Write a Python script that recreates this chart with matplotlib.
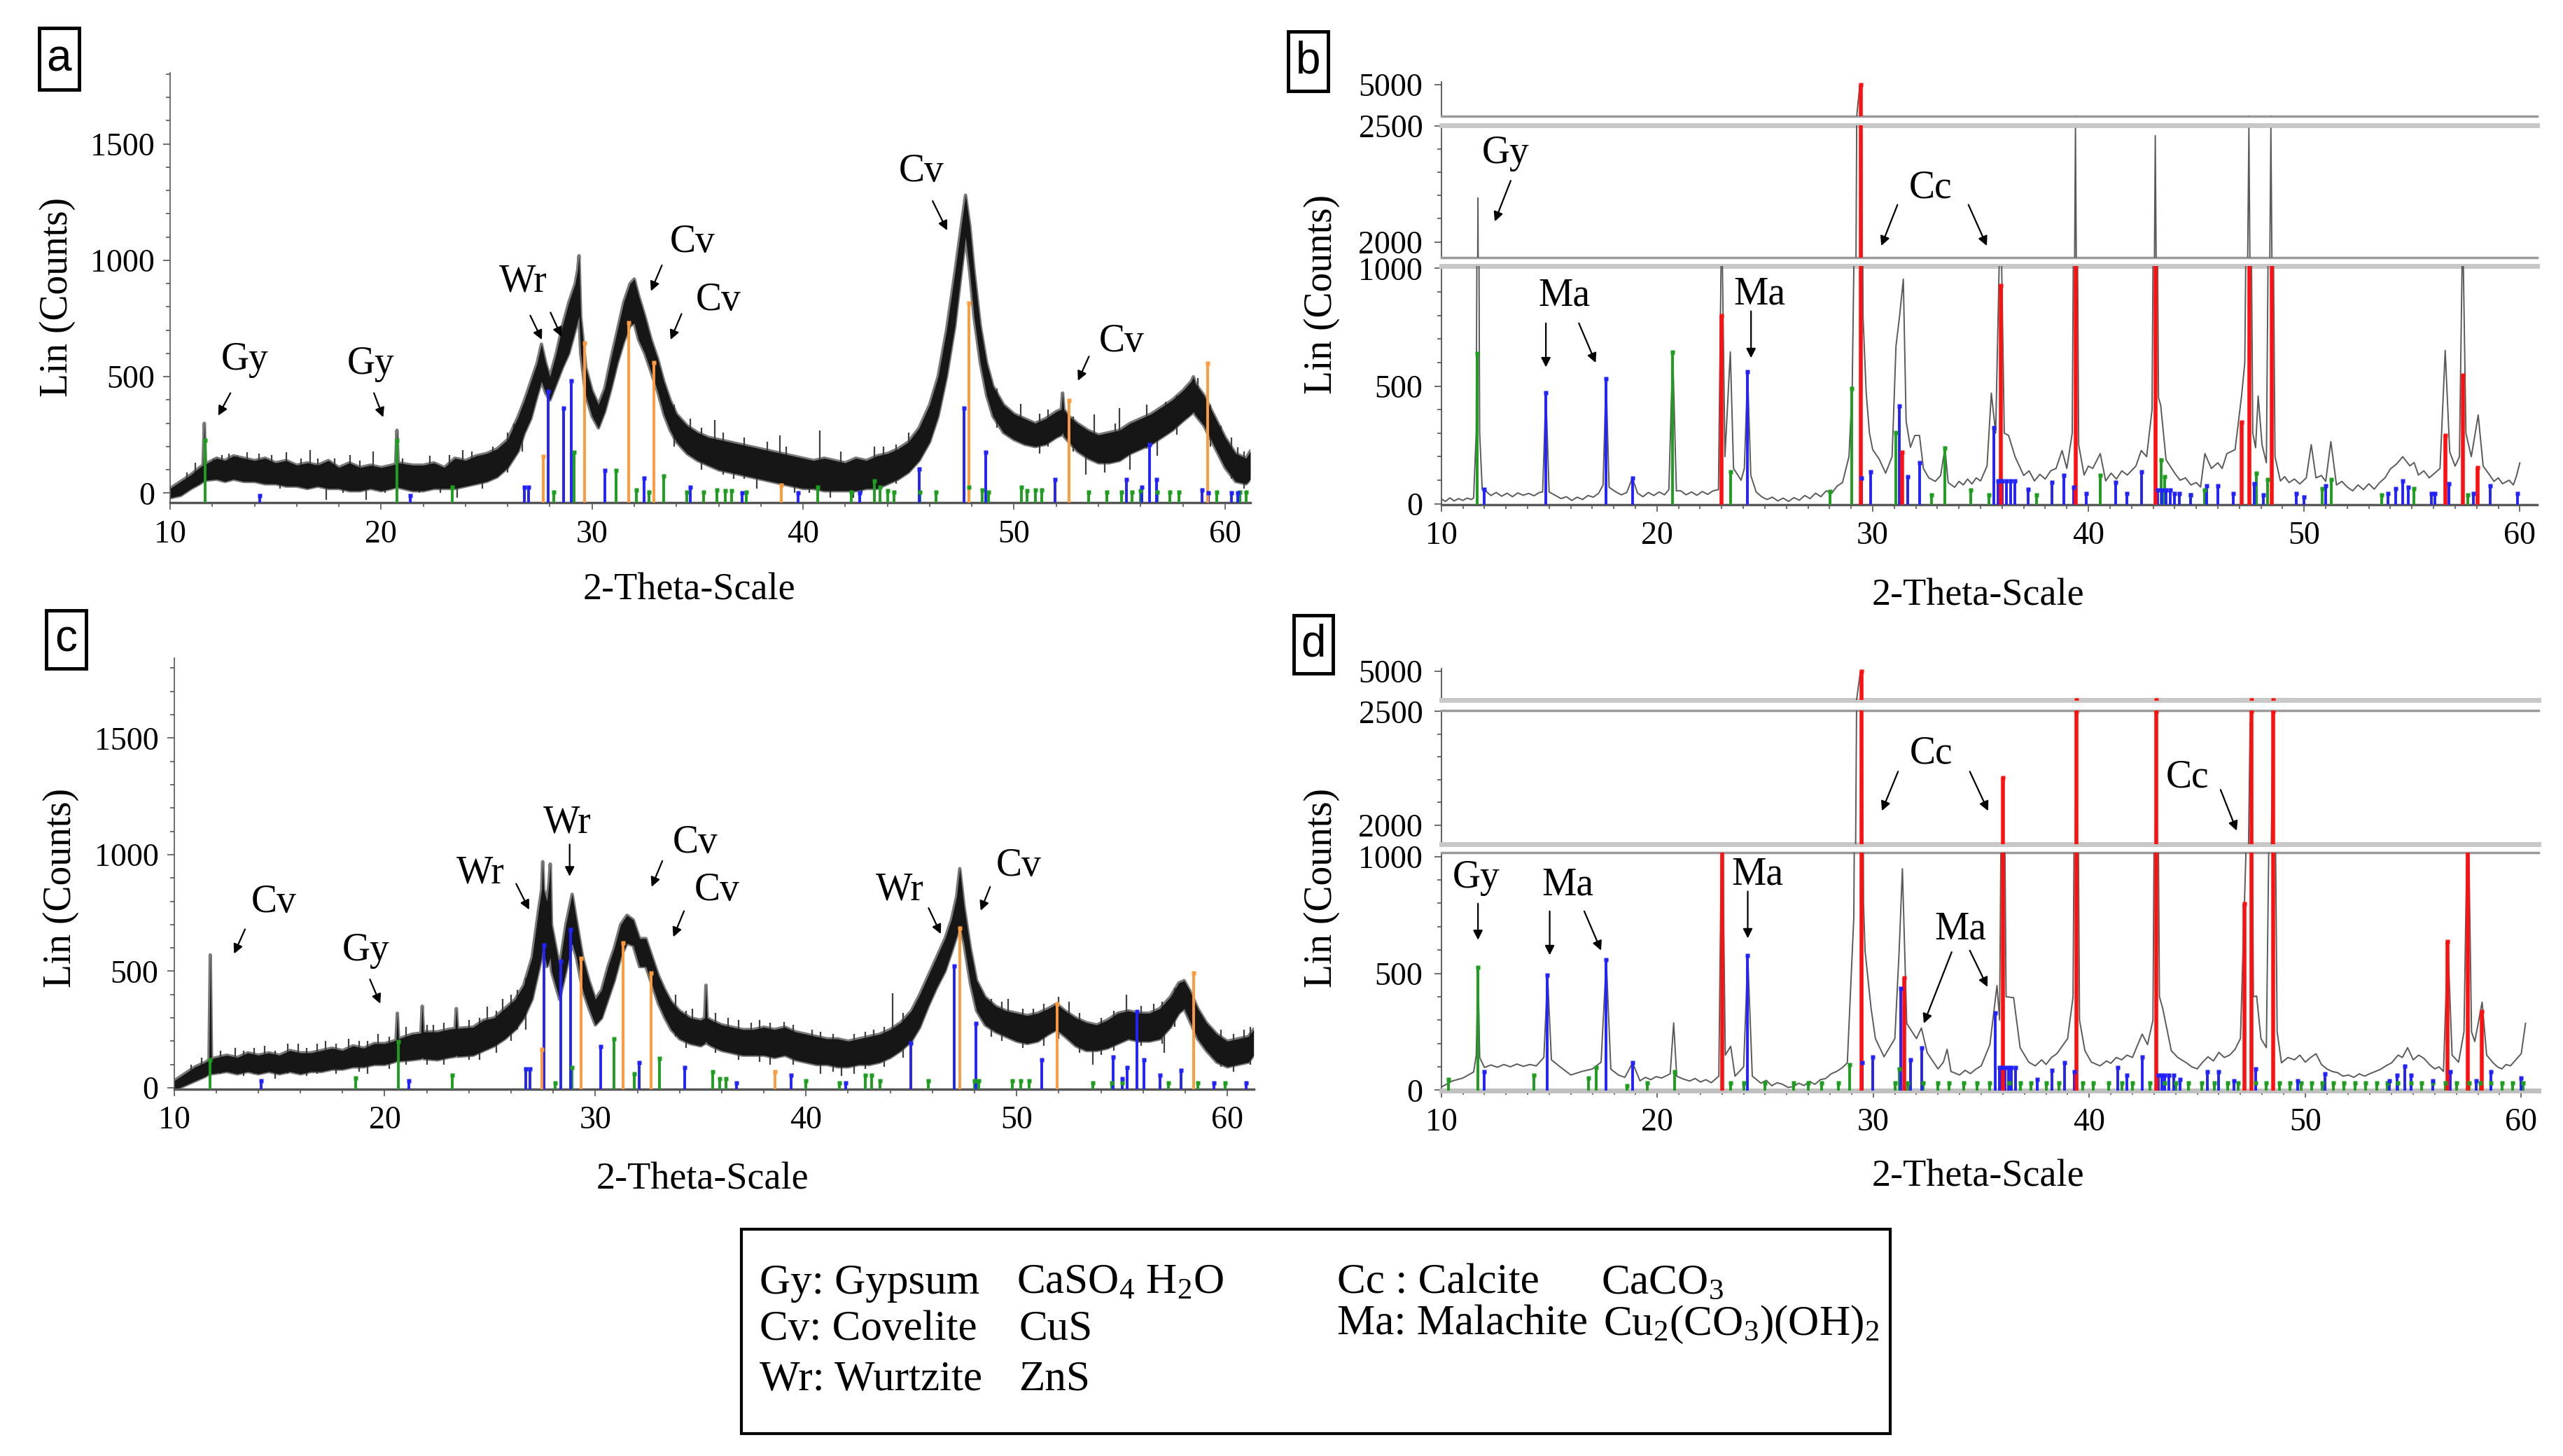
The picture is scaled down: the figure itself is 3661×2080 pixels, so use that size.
import matplotlib
matplotlib.use("Agg")
import matplotlib.pyplot as plt
from matplotlib.patches import Rectangle
from matplotlib.ticker import MultipleLocator, FixedLocator

plt.rcParams['font.family'] = 'Liberation Serif'
plt.rcParams['mathtext.fontset'] = 'custom'
plt.rcParams['mathtext.rm'] = 'Liberation Serif'
plt.rcParams['mathtext.it'] = 'Liberation Serif:italic'

W, H = 3661, 2080

# ---------------- panel a: noisy band (lower / upper envelope) ----------------
x_a = [10.0, 10.5, 11.0, 11.4, 11.56, 11.62, 11.68, 12.2, 12.6, 13.0, 13.5, 14.0, 14.5, 15.0,
       15.5, 16.0, 16.5, 17.0, 17.5, 18.0, 18.5, 19.0, 19.5, 20.0, 20.5, 20.69, 20.75, 20.81,
       21.5, 22.0, 22.5, 23.0, 23.5, 24.0, 24.5, 25.0, 25.5, 26.0, 26.5, 26.8, 27.1, 27.4,
       27.6, 27.8, 28.0, 28.3, 28.6, 28.9, 29.2, 29.32, 29.38, 29.46, 29.7, 30.0, 30.3, 30.6,
       30.9, 31.2, 31.5, 31.8, 32.0, 32.2, 32.5, 32.8, 33.1, 33.4, 33.7, 34.0, 34.5, 35.0,
       35.5, 36.0, 36.5, 37.0, 37.5, 38.0, 38.5, 39.0, 39.5, 40.0, 40.5, 41.0, 41.5, 42.0,
       42.5, 43.0, 43.5, 44.0, 44.5, 45.0, 45.5, 46.0, 46.4, 46.8, 47.2, 47.5, 47.7, 47.9,
       48.1, 48.4, 48.7, 49.0, 49.5, 50.0, 50.5, 51.0, 51.5, 52.0, 52.24, 52.3, 52.36, 52.6,
       53.0, 53.5, 54.0, 54.5, 55.0, 55.5, 56.0, 56.5, 57.0, 57.5, 58.0, 58.4, 58.5, 58.6,
       59.0, 59.5, 60.0, 60.5, 61.0, 61.2]
lo_a = [-20, -10, 20, 40, 50, 60, 55, 60, 50, 60, 50, 50, 40, 40,
        30, 30, 20, 30, 20, 20, 10, 10, 20, 10, 20, 25, 30, 25,
        10, 10, 20, 20, 20, 30, 40, 50, 70, 110, 180, 260, 320, 420,
        480, 430, 400, 470, 540, 600, 700, 740, 760, 600, 420, 330, 280, 350,
        450, 560, 650, 720, 730, 660, 600, 520, 440, 340, 270, 220, 170, 140,
        120, 100, 90, 80, 70, 60, 50, 40, 30, 20, 20, 10, 10, 10,
        10, 20, 20, 40, 60, 90, 140, 220, 330, 500, 720, 950, 1100, 950,
        760, 560, 420, 330, 260, 230, 210, 200, 210, 240, 250, 260, 245, 220,
        180, 150, 130, 130, 140, 170, 190, 210, 240, 270, 310, 340, 350, 335,
        290, 200, 110, 50, 40, 60]
hi_a = [20, 50, 80, 110, 120, 300, 125, 150, 140, 160, 150, 140, 150, 130,
        140, 120, 130, 120, 140, 110, 130, 110, 120, 110, 120, 125, 270, 130,
        120, 120, 130, 110, 150, 140, 160, 170, 190, 230, 330, 400, 480, 560,
        640, 560, 500, 600, 720, 820, 900, 960, 1020, 760, 540, 440, 380, 450,
        580, 700, 820, 900, 920, 850, 760, 660, 580, 480, 400, 340, 290, 260,
        240, 230, 220, 210, 200, 190, 180, 170, 160, 150, 140, 150, 140, 130,
        150, 140, 160, 170, 190, 220, 280, 380, 500, 700, 950, 1150, 1280, 1150,
        960, 720, 560, 460, 380, 340, 320, 300, 320, 350, 360, 430, 360, 330,
        300, 270, 250, 260, 270, 300, 320, 340, 370, 400, 440, 480, 500, 470,
        420, 330, 240, 170, 150, 180]
# noise spikes sticking out of the band: position, low end, high end
spk_a_x = [10.8, 11.2, 12.06, 12.44, 12.8, 13.2, 13.65, 14.2, 14.8, 15.2, 15.5, 16.2, 16.64, 17.0,
           17.4, 17.8, 18.2, 18.54, 19.0, 19.3, 19.62, 20.2, 21.0, 21.8, 22.3, 22.8, 23.24, 23.6,
           23.87, 24.3, 24.8, 25.3, 25.8, 26.0, 26.3, 26.7, 33.9, 34.65, 35.2, 35.8, 36.2, 36.7,
           37.2, 37.8, 38.3, 38.9, 39.2, 39.6, 40.3, 40.8, 41.3, 41.8, 42.4, 42.8, 43.38, 43.8,
           44.4, 45.0, 49.2, 50.3, 51.2, 51.6, 52.8, 53.4, 53.8, 54.3, 54.8, 55.0, 55.5, 56.3,
           56.8, 57.2, 57.7, 58.7, 59.3, 59.8, 60.3, 60.6, 60.9]
spk_a_lo = [10, 30, 90, 90, 80, 70, 90, 70, 60, 20, 80, 50, 70, 30,
            -30, 40, 0, 60, 30, -30, 60, 0, 30, 0, 40, 0, 60, -20,
            70, 40, 20, 60, 120, 90, 150, 180, 200, 230, 100, 200, 80, 60,
            60, 20, 60, 120, 40, 0, 0, 80, -20, 30, -20, 0, 100, 40,
            40, 150, 280, 300, 170, 200, 180, 80, 220, 90, 140, 230, 100, 190,
            160, 300, 250, 380, 200, 150, 60, 100, 20]
spk_a_hi = [90, 130, 150, 165, 170, 160, 175, 170, 165, 120, 175, 150, 186, 150,
            60, 150, 90, 165, 140, 50, 180, 80, 150, 90, 160, 80, 165, 60,
            185, 180, 120, 200, 200, 260, 300, 360, 380, 320, 280, 313, 260, 150,
            240, 150, 220, 248, 200, 80, 110, 268, 60, 180, 50, 100, 200, 200,
            210, 260, 450, 384, 340, 360, 330, 200, 339, 230, 300, 365, 200, 380,
            300, 392, 420, 496, 380, 290, 240, 196, 180]

# ---------------- panel c: noisy band (lower / upper envelope) ----------------
x_c = [10.0, 10.5, 11.0, 11.5, 11.66, 11.72, 11.78, 12.5, 13.0, 13.5, 14.0, 14.5, 15.0, 15.5,
       16.0, 16.5, 17.0, 17.5, 18.0, 18.5, 19.0, 19.5, 20.0, 20.4, 20.54, 20.6, 20.66, 21.3,
       21.72, 21.78, 21.84, 22.5, 23.0, 23.34, 23.4, 23.46, 24.2, 24.7, 25.2, 25.7, 26.2, 26.6,
       27.0, 27.3, 27.45, 27.5, 27.55, 27.7, 27.8, 27.86, 27.92, 28.3, 28.6, 28.9, 29.1, 29.4,
       29.7, 30.0, 30.3, 30.6, 30.9, 31.2, 31.5, 31.8, 32.1, 32.4, 32.7, 33.0, 33.3, 33.6,
       34.0, 34.5, 35.0, 35.19, 35.25, 35.31, 35.5, 36.0, 36.5, 37.0, 37.5, 38.0, 38.5, 39.0,
       39.5, 40.0, 40.5, 41.0, 41.5, 42.0, 42.5, 43.0, 43.5, 44.0, 44.5, 45.0, 45.4, 45.8,
       46.2, 46.6, 46.9, 47.15, 47.3, 47.5, 47.8, 48.1, 48.5, 49.0, 49.5, 50.0, 50.5, 51.0,
       51.5, 51.9, 52.3, 52.8, 53.3, 53.8, 54.3, 54.8, 55.3, 55.8, 56.3, 56.8, 57.3, 57.7,
       57.95, 58.2, 58.6, 59.0, 59.5, 60.0, 60.5, 61.0, 61.25]
lo_c = [-10, 10, 30, 50, 60, 70, 60, 70, 60, 70, 60, 70, 60, 70,
        60, 70, 70, 80, 80, 90, 90, 100, 100, 110, 115, 120, 115, 120,
        125, 130, 125, 120, 130, 135, 140, 135, 140, 160, 180, 210, 250, 300,
        380, 500, 560, 620, 580, 520, 540, 560, 500, 380, 500, 620, 560, 420,
        340, 270, 300, 380, 460, 560, 620, 610, 520, 520, 440, 360, 300, 250,
        210, 190, 180, 190, 200, 190, 180, 160, 150, 140, 140, 140, 130, 140,
        120, 110, 100, 100, 90, 90, 100, 100, 110, 130, 160, 200, 260, 350,
        430, 500, 580, 650, 700, 620, 450, 330, 270, 240, 220, 200, 190, 200,
        230, 250, 220, 180, 160, 160, 170, 190, 210, 200, 200, 210, 260, 320,
        340, 290, 210, 160, 110, 90, 100, 110, 140]
hi_c = [30, 60, 90, 110, 120, 570, 125, 140, 130, 150, 140, 150, 140, 160,
        150, 150, 160, 170, 160, 180, 170, 190, 190, 200, 205, 320, 210, 230,
        235, 350, 240, 240, 250, 255, 340, 255, 260, 290, 300, 340, 380, 440,
        560, 760, 850, 970, 850, 800, 880, 960, 700, 520, 700, 830, 720, 560,
        460, 380, 420, 520, 600, 700, 740, 720, 640, 640, 560, 480, 420, 370,
        330, 300, 290, 300, 440, 300, 290, 270, 260, 250, 250, 260, 250, 260,
        240, 230, 220, 210, 210, 200, 210, 220, 230, 250, 280, 330, 400, 480,
        560, 640, 720, 820, 940, 780, 600, 460, 390, 350, 330, 320, 310, 320,
        340, 360, 330, 300, 280, 270, 290, 320, 330, 320, 320, 340, 390, 450,
        460, 420, 340, 280, 230, 200, 210, 220, 250]
spk_c_x = [10.8, 11.3, 12.2, 12.9, 13.3, 13.8, 14.3, 14.8, 15.4, 15.9, 16.3, 16.8, 17.2, 17.7,
           18.3, 18.8, 19.2, 19.7, 20.2, 21.0, 22.0, 22.3, 22.8, 24.0, 24.5, 24.87, 25.3, 25.6,
           26.0, 26.3, 26.7, 33.8, 34.3, 34.6, 35.7, 36.3, 36.8, 37.4, 37.8, 38.3, 38.95, 39.4,
           40.3, 40.7, 41.3, 41.7, 42.3, 42.8, 43.2, 43.7, 44.1, 44.6, 48.8, 49.3, 49.6, 50.3,
           50.8, 51.3, 52.0, 52.5, 53.0, 53.6, 54.0, 54.6, 55.2, 55.9, 56.5, 56.9, 57.0, 57.5,
           58.4, 59.3, 59.7, 60.3, 60.8, 61.1]
spk_c_lo = [20, 40, 60, 80, 50, 60, 80, 40, 60, 90, 50, 60, 90, 60,
            100, 70, 60, 110, 80, 100, 100, 140, 100, 120, 120, 170, 150, 220,
            200, 250, 250, 220, 170, 200, 150, 170, 120, 150, 110, 100, 150, 100,
            110, 60, 70, 50, 60, 80, 110, 90, 150, 130, 220, 200, 250, 170,
            220, 180, 210, 240, 150, 100, 140, 160, 230, 180, 210, 190, 150, 260,
            250, 130, 90, 70, 120, 100]
spk_c_hi = [100, 130, 160, 170, 160, 170, 180, 160, 190, 190, 170, 190, 200, 190,
            210, 200, 200, 230, 220, 260, 270, 270, 280, 290, 300, 348, 330, 380,
            400, 420, 470, 400, 330, 340, 320, 300, 290, 280, 290, 280, 282, 270,
            250, 240, 230, 130, 230, 240, 250, 260, 406, 320, 380, 370, 380, 340,
            340, 360, 390, 370, 320, 180, 300, 330, 400, 350, 360, 370, 250, 430,
            420, 250, 250, 230, 250, 260]

# ---------------- panel b / d: single trace ----------------
x_b = [10.0, 10.2, 10.4, 10.6, 10.8, 11.0, 11.2, 11.4, 11.5, 11.62, 11.7, 11.78, 11.9, 12.05,
       12.3, 12.55, 12.8, 13.05, 13.3, 13.55, 13.8, 14.05, 14.3, 14.55, 14.7, 14.85, 15.0, 15.3,
       15.55, 15.8, 16.05, 16.3, 16.55, 16.8, 17.05, 17.3, 17.5, 17.64, 17.78, 18.1, 18.35, 18.6,
       18.86, 19.1, 19.35, 19.6, 19.85, 20.1, 20.35, 20.55, 20.73, 20.9, 21.1, 21.35, 21.6, 21.85,
       22.1, 22.35, 22.6, 22.85, 23.0, 23.15, 23.4, 23.55, 23.9, 24.05, 24.2, 24.35, 24.6, 24.85,
       25.1, 25.35, 25.6, 25.85, 26.1, 26.35, 26.6, 26.85, 27.1, 27.35, 27.6, 27.85, 28.1, 28.35,
       28.6, 28.9, 29.05, 29.2, 29.4, 29.55, 29.7, 29.85, 30.0, 30.3, 30.6, 30.9, 31.08, 31.25,
       31.42, 31.55, 31.75, 31.95, 32.17, 32.35, 32.6, 32.9, 33.15, 33.35, 33.5, 33.8, 34.0, 34.2,
       34.4, 34.6, 34.8, 35.0, 35.3, 35.5, 35.7, 35.93, 36.1, 36.3, 36.6, 37.0, 37.25, 37.5,
       37.75, 38.0, 38.25, 38.5, 38.78, 39.0, 39.25, 39.4, 39.55, 39.8, 40.0, 40.2, 40.55, 40.8,
       41.05, 41.3, 41.55, 41.8, 42.2, 42.45, 42.7, 42.95, 43.1, 43.25, 43.35, 43.6, 44.0, 44.25,
       44.5, 44.75, 45.0, 45.2, 45.4, 45.7, 46.0, 46.2, 46.42, 46.8, 47.1, 47.25, 47.44, 47.62,
       47.75, 47.87, 48.05, 48.25, 48.46, 48.65, 48.9, 49.1, 49.3, 49.55, 49.8, 50.1, 50.33, 50.55,
       50.8, 51.0, 51.24, 51.5, 51.75, 52.0, 52.25, 52.5, 52.75, 53.0, 53.25, 53.5, 53.75, 54.0,
       54.3, 54.57, 54.9, 55.1, 55.3, 55.55, 55.8, 56.05, 56.3, 56.54, 56.75, 57.0, 57.2, 57.35,
       57.5, 57.75, 58.07, 58.3, 58.6, 58.8, 59.0, 59.2, 59.5, 59.7, 59.85, 60.0]
y_b = [20, 10, 25, 12, 22, 14, 24, 18, 25, 300, 2190, 300, 60, 55,
       35, 48, 32, 45, 30, 46, 36, 44, 34, 48, 50, 475, 50, 35,
       22, 30, 14, 28, 18, 35, 28, 45, 80, 532, 70, 50, 38, 48,
       110, 45, 30, 48, 35, 50, 38, 60, 645, 55, 55, 38, 50, 36,
       52, 40, 55, 60, 1250, 200, 645, 150, 100, 150, 561, 120, 50, 30,
       18, 28, 12, 24, 10, 26, 15, 35, 22, 45, 30, 55, 45, 75,
       90, 200, 490, 1500, 4900, 800, 470, 300, 230, 190, 130, 200, 670, 800,
       954, 350, 240, 290, 290, 150, 110, 95, 120, 238, 90, 70, 95, 80,
       105, 84, 110, 97, 160, 470, 300, 1300, 300, 290, 200, 120, 140, 97,
       125, 105, 140, 150, 226, 150, 300, 2490, 250, 122, 160, 150, 213, 97,
       130, 105, 140, 122, 160, 226, 200, 400, 2458, 450, 419, 187, 130, 100,
       110, 80, 90, 71, 213, 150, 174, 150, 213, 230, 458, 600, 2490, 300,
       238, 458, 250, 174, 2490, 200, 97, 115, 90, 105, 84, 110, 251, 110,
       120, 95, 264, 80, 95, 71, 55, 80, 60, 85, 62, 90, 110, 148,
       170, 200, 161, 175, 122, 140, 110, 130, 150, 651, 220, 160, 200, 1200,
       300, 200, 377, 160, 122, 95, 110, 85, 100, 80, 120, 174]

x_d = [10.0, 10.5, 11.0, 11.5, 11.62, 11.7, 11.78, 12.0, 12.3, 12.6, 12.9, 13.2, 13.5, 13.8,
       14.1, 14.4, 14.75, 14.92, 15.1, 15.5, 16.0, 16.5, 17.0, 17.4, 17.64, 17.85, 18.2, 18.5,
       18.86, 19.2, 19.45, 19.7, 19.95, 20.2, 20.6, 20.76, 20.9, 21.2, 21.5, 21.75, 22.0, 22.25,
       22.5, 22.85, 23.0, 23.15, 23.4, 23.6, 24.0, 24.19, 24.4, 24.8, 25.05, 25.3, 25.55, 25.8,
       26.05, 26.3, 26.55, 26.8, 27.05, 27.3, 27.55, 27.8, 28.05, 28.3, 28.55, 28.8, 29.1, 29.4,
       29.55, 29.62, 29.9, 30.1, 30.5, 31.0, 31.2, 31.35, 31.55, 31.8, 32.0, 32.23, 32.5, 33.0,
       33.25, 33.42, 33.6, 34.0, 34.25, 34.5, 34.75, 35.0, 35.4, 35.73, 35.85, 36.0, 36.15, 36.5,
       36.8, 37.2, 37.5, 37.8, 38.0, 38.25, 38.5, 39.0, 39.25, 39.4, 39.55, 39.8, 40.1, 40.5,
       40.8, 41.0, 41.25, 41.5, 41.75, 42.0, 42.45, 42.7, 42.95, 43.1, 43.25, 43.4, 43.8, 44.1,
       44.5, 44.75, 45.0, 45.25, 45.5, 45.75, 46.0, 46.25, 46.5, 46.75, 47.0, 47.25, 47.45, 47.6,
       47.75, 47.95, 48.2, 48.5, 48.7, 48.9, 49.2, 49.5, 49.75, 50.0, 50.25, 50.5, 50.75, 51.0,
       51.25, 51.5, 51.75, 52.0, 52.25, 52.5, 52.75, 53.0, 53.25, 53.5, 53.75, 54.0, 54.3, 54.5,
       54.74, 55.0, 55.25, 55.5, 55.75, 56.0, 56.2, 56.4, 56.6, 56.8, 57.1, 57.35, 57.53, 57.7,
       57.85, 58.19, 58.4, 58.7, 58.9, 59.1, 59.3, 59.5, 59.75, 60.0, 60.2]
y_d = [13, 39, 52, 78, 150, 526, 140, 97, 108, 98, 110, 100, 112, 102,
       110, 104, 140, 494, 130, 100, 65, 80, 91, 120, 558, 90, 65, 55,
       117, 40, 55, 45, 58, 52, 70, 288, 60, 48, 39, 50, 35, 45,
       32, 60, 1300, 150, 188, 60, 100, 578, 60, 30, 42, 19, 32, 25,
       12, 15, 30, 20, 38, 25, 45, 50, 70, 80, 95, 117, 740, 4900,
       800, 598, 350, 221, 143, 221, 598, 948, 286, 250, 221, 266, 160, 91,
       120, 175, 80, 65, 85, 71, 90, 104, 195, 448, 300, 2180, 400, 396,
       182, 120, 104, 130, 110, 140, 156, 221, 400, 2450, 300, 169, 120, 104,
       125, 115, 140, 130, 150, 140, 240, 195, 300, 2450, 400, 351, 169, 140,
       117, 100, 91, 120, 143, 125, 162, 140, 150, 175, 221, 1000, 2450, 400,
       403, 221, 182, 2450, 250, 117, 140, 130, 150, 120, 140, 156, 110, 91,
       80, 75, 60, 65, 55, 70, 60, 71, 80, 90, 105, 117, 150, 140,
       182, 130, 150, 136, 110, 91, 100, 80, 636, 150, 120, 250, 1300, 250,
       208, 377, 150, 117, 100, 91, 110, 104, 130, 156, 286]

# ---------------- reference sticks ----------------
green_a_pos = [11.65, 20.75, 23.38, 28.2, 29.14, 31.14, 32.1, 32.7, 33.38, 34.5, 35.3, 35.9, 36.3,
               36.6, 37.3, 40.7, 42.3, 43.38, 43.65, 44.0, 44.3, 45.55, 46.3, 47.86, 48.5, 48.8,
               50.34, 50.6, 51.0, 51.3, 53.55, 54.4, 55.1, 55.6, 56.0, 56.8, 57.4, 57.8, 59.6,
               60.7, 61.0]
green_a_h = [228, 228, 26, 5, 176, 98, 13, 5, 72, 5, 5, 13, 10, 10, 5, 26, 5, 52, 26, 10, 5, 5,
             5, 26, 13, 5, 26, 10, 13, 13, 5, 5, 5, 5, 10, 5, 5, 5, 5, 5, 5]
blue_a_pos = [14.24, 21.38, 26.8, 27.0, 27.93, 28.65, 29.0, 30.62, 32.45, 34.65, 37.1, 39.76,
              42.7, 45.5, 47.62, 48.65, 51.93, 55.34, 56.07, 56.41, 56.76, 58.9, 59.2, 60.3, 60.6]
blue_a_h = [-10, -10, 26, 26, 437, 365, 483, 98, 65, 26, 0, 0, 0, 104, 365, 176, 59, 59, 26,
            209, 59, 13, 0, 0, 0]
orange_a_pos = [27.69, 29.66, 31.72, 32.93, 38.97, 47.86, 52.62, 59.17]
orange_a_h = [157, 646, 731, 561, 33, 816, 398, 559]

green_c_pos = [11.72, 18.62, 20.65, 23.22, 28.1, 28.9, 30.88, 31.84, 33.04, 35.58, 35.9, 36.2,
               40.0, 41.6, 42.8, 43.1, 43.5, 45.8, 48.0, 48.2, 49.8, 50.2, 50.6, 53.6, 54.5,
               55.0, 57.2, 58.6, 59.9]
green_c_h = [120, 42, 198, 55, 20, 87, 211, 60, 126, 68, 40, 40, 30, 20, 55, 55, 30, 30, 30, 30,
             30, 30, 30, 20, 20, 20, 20, 20, 20]
blue_c_pos = [14.12, 21.16, 26.7, 26.9, 27.55, 28.37, 28.82, 30.26, 32.08, 34.24, 36.7, 39.29,
              41.9, 44.96, 47.02, 48.05, 51.2, 54.57, 55.0, 55.26, 55.7, 56.05, 56.8, 57.8,
              59.38, 60.9]
blue_c_h = [29, 29, 81, 81, 614, 543, 680, 178, 107, 87, 20, 55, 20, 191, 523, 276, 120, 133,
            40, 87, 328, 120, 55, 74, 20, 20]
orange_c_pos = [27.45, 29.33, 31.33, 32.63, 38.54, 47.3, 51.93, 58.39]
orange_c_h = [165, 556, 621, 491, 68, 686, 361, 491]

green_b_pos = [11.65, 20.72, 23.4, 28.03, 29.04, 31.08, 32.74, 33.35, 34.54, 35.39, 37.6, 40.55,
               43.37, 43.55, 44.72, 45.4, 47.8, 48.3, 50.83, 51.27, 53.6, 55.1, 57.6]
green_b_h = [638, 645, 135, 52, 490, 303, 39, 238, 58, 39, 39, 122, 187, 116, 39, 58, 129, 103,
             64, 103, 39, 64, 39]
blue_b_pos = [12.0, 14.85, 17.64, 18.86, 24.2, 29.48, 29.9, 31.22, 31.62, 32.17, 35.6, 35.8,
              35.9, 36.0, 36.2, 36.4, 36.6, 37.2, 38.3, 38.85, 39.3, 39.9, 41.26, 41.77, 42.45,
              43.2, 43.4, 43.6, 43.8, 44.0, 44.2, 44.72, 45.47, 46.0, 46.7, 47.7, 48.1, 49.65,
              49.99, 51.0, 53.9, 54.25, 54.57, 54.84, 55.9, 56.05, 56.7, 57.85, 58.63, 59.9]
blue_b_h = [60, 473, 531, 110, 561, 110, 135, 415, 116, 174, 322, 97, 97, 97, 97, 97, 97, 60, 90,
            122, 71, 45, 90, 45, 135, 58, 58, 58, 58, 45, 45, 39, 77, 77, 45, 84, 39, 45, 30, 77,
            45, 64, 97, 71, 45, 45, 84, 45, 77, 45]
red_b_pos = [23.0, 29.45, 31.35, 35.93, 39.4, 43.1, 47.1, 47.45, 48.5, 56.54, 57.35, 58.03]
red_b_h = [799, 5000, 219, 928, 1500, 1500, 348, 1500, 1500, 290, 545, 155]

green_d_pos = [10.34, 11.7, 14.28, 16.82, 17.16, 18.6, 19.54, 20.8, 23.4, 24.0, 25.0, 26.3, 27.0,
               27.6, 28.4, 28.9, 31.0, 31.2, 31.6, 32.3, 33.0, 33.5, 34.2, 34.8, 35.4, 36.3,
               36.8, 37.3, 38.0, 38.6, 39.7, 40.2, 40.9, 41.5, 42.0, 42.8, 43.5, 44.0, 44.6,
               45.2, 45.8, 46.4, 46.9, 47.7, 48.2, 48.8, 49.3, 49.8, 50.3, 50.8, 51.3, 51.8,
               52.3, 52.8, 53.3, 53.8, 54.3, 54.9, 55.4, 55.9, 56.5, 57.0, 57.6, 58.1, 58.6,
               59.1, 59.6, 60.1]
green_d_h = [45, 526, 65, 52, 97, 20, 30, 78, 30, 30, 30, 30, 30, 30, 30, 110, 30, 91, 30, 30,
             30, 30, 30, 30, 30, 30, 30, 30, 30, 30, 30, 30, 30, 30, 30, 30, 30, 30, 30, 30, 30,
             30, 30, 30, 30, 30, 30, 30, 30, 30, 30, 30, 30, 30, 30, 30, 30, 30, 30, 30, 30, 30,
             30, 30, 30, 30, 30, 30]
blue_d_pos = [12.0, 14.92, 17.64, 18.86, 24.19, 29.5, 29.96, 31.28, 31.72, 32.23, 35.66, 35.85,
              35.95, 36.1, 36.25, 36.4, 36.6, 37.6, 38.27, 38.85, 39.3, 41.33, 41.75, 42.45, 43.2,
              43.35, 43.5, 43.7, 43.9, 44.2, 45.47, 46.0, 46.7, 47.7, 49.65, 50.9, 53.9, 54.25,
              54.6, 54.9, 55.9, 56.7, 57.9, 58.6, 60.0]
blue_d_h = [78, 494, 558, 117, 578, 117, 143, 435, 130, 182, 331, 97, 97, 97, 97, 97, 97, 45,
            84, 117, 78, 97, 65, 143, 65, 65, 65, 65, 65, 45, 78, 78, 40, 90, 40, 71, 40, 65,
            104, 65, 40, 78, 40, 78, 52]
red_d_pos = [23.0, 29.45, 31.42, 36.0, 39.4, 43.1, 47.2, 47.5, 48.5, 56.6, 57.53, 58.19]
red_d_h = [1500, 5000, 481, 2210, 2500, 2500, 799, 2500, 2500, 636, 1500, 338]

GREEN, BLUE, ORANGE, RED = '#1e9e1e', '#2222ff', '#ff9a3c', '#ff1010'

fig = plt.figure(figsize=(W / 100, H / 100), dpi=100)


def add_ax(x0, x1, ytop, ybot):
    return fig.add_axes([x0 / W, 1 - ybot / H, (x1 - x0) / W, (ybot - ytop) / H])


def sticks(ax, pos, hts, color, base, lw=2.8):
    ax.vlines(pos, base, hts, colors=color, lw=lw, zorder=4)
    ax.plot(pos, hts, 's', color=color, ms=4.5, mec='none', zorder=5)


def arrow_label(ax, txt, tx, ty, arrows):
    ax.text(tx, ty, txt, ha='center', va='center', fontsize=40, zorder=6)
    for (x0, y0, x1, y1) in arrows:
        ax.annotate('', xy=(x1, y1), xytext=(x0, y0),
                    arrowprops=dict(arrowstyle='-|>', color='k', lw=1.6,
                                    mutation_scale=20, shrinkA=0, shrinkB=0), zorder=6)


def style_single(ax, xmax, ymin, ymax):
    ax.set_xlim(10, xmax)
    ax.set_ylim(ymin, ymax)
    for s in ['top', 'right']:
        ax.spines[s].set_visible(False)
    ax.spines['bottom'].set_color('#555555')
    ax.spines['bottom'].set_linewidth(2.5)
    ax.spines['left'].set_color('#555555')
    ax.spines['left'].set_linewidth(1.2)
    ax.xaxis.set_major_locator(FixedLocator([10, 20, 30, 40, 50, 60]))
    ax.xaxis.set_minor_locator(MultipleLocator(2))
    ax.yaxis.set_major_locator(FixedLocator([0, 500, 1000, 1500]))
    ax.yaxis.set_minor_locator(MultipleLocator(100))
    ax.tick_params(which='both', direction='out', color='#555555', width=1.2)
    ax.tick_params(which='major', length=7, labelsize=33)
    ax.tick_params(which='minor', length=4)
    ax.tick_params(axis='x', pad=10)
    ax.tick_params(axis='y', pad=9)


def band_panel(box, xmax, ymin, ymax, xs, lo, hi, sx, slo, shi, sticks_list):
    ax = add_ax(*box)
    # grey fringe + noise spikes, then the dark core of the noisy trace
    ax.plot(xs, hi, color='#7a7a7a', lw=3.5, zorder=1)
    ax.plot(xs, lo, color='#7a7a7a', lw=3.5, zorder=1)
    ax.vlines(sx, slo, shi, colors='#404040', lw=1.6, zorder=1)
    ax.fill_between(xs, lo, hi, color='#161616', lw=0, zorder=2)
    for pos, hts, col in sticks_list:
        sticks(ax, pos, hts, col, ymin)
    style_single(ax, xmax, ymin, ymax)
    return ax


def broken_panel(x0, x1, rows, xs, ys, sticks_list, light_low):
    axes = []
    for ytop, ybot, lim in rows:
        ax = add_ax(x0, x1, ytop, ybot)
        ax.plot(xs, ys, color='#5a5a5a', lw=1.4, zorder=3)
        for pos, hts, col in sticks_list:
            lw = 4.0 if col == RED else 2.8
            sticks(ax, pos, hts, col, -50, lw=lw)
        ax.set_xlim(10, 60.8)
        ax.set_ylim(*lim)
        ax.spines['right'].set_visible(False)
        ax.spines['left'].set_color('#444444')
        ax.spines['left'].set_linewidth(1.2)
        ax.tick_params(which='both', direction='out', color='#555555', width=1.2)
        ax.tick_params(which='major', length=7, labelsize=33, pad=12)
        ax.tick_params(which='minor', length=4)
        axes.append(ax)
    bot, mid, top = axes
    light, dark = ('#c8c8c8', 5.0), ('#9a9a9a', 2.5)
    lo_sty, hi_sty = (light, dark) if light_low else (dark, light)
    bot.spines['top'].set_color(lo_sty[0]); bot.spines['top'].set_linewidth(lo_sty[1])
    mid.spines['bottom'].set_color(hi_sty[0]); mid.spines['bottom'].set_linewidth(hi_sty[1])
    mid.spines['top'].set_color(lo_sty[0]); mid.spines['top'].set_linewidth(lo_sty[1])
    top.spines['bottom'].set_color(hi_sty[0]); top.spines['bottom'].set_linewidth(hi_sty[1])
    top.spines['top'].set_visible(False)
    if light_low:
        bot.spines['bottom'].set_color('#5a5a5a'); bot.spines['bottom'].set_linewidth(2.5)
    else:
        bot.spines['bottom'].set_color('#c0c0c0'); bot.spines['bottom'].set_linewidth(5)
    bot.xaxis.set_major_locator(FixedLocator([10, 20, 30, 40, 50, 60]))
    bot.xaxis.set_minor_locator(MultipleLocator(1))
    bot.yaxis.set_major_locator(FixedLocator([0, 500, 1000]))
    bot.yaxis.set_minor_locator(MultipleLocator(100))
    bot.tick_params(axis='x', pad=10)
    mid.yaxis.set_major_locator(FixedLocator([2000, 2500]))
    mid.yaxis.set_minor_locator(MultipleLocator(100))
    top.yaxis.set_major_locator(FixedLocator([5000]))
    top.yaxis.set_minor_locator(FixedLocator([]))
    for ax in (mid, top):
        ax.tick_params(axis='x', which='both', bottom=False, labelbottom=False)
    return bot, mid, top


# ---- panel a ----
ax_a = band_panel((243, 1786, 104, 718.4), 61.2, -42, 1806, x_a, lo_a, hi_a,
                  spk_a_x, spk_a_lo, spk_a_hi,
                  [(green_a_pos, green_a_h, GREEN), (blue_a_pos, blue_a_h, BLUE),
                   (orange_a_pos, orange_a_h, ORANGE)])
arrow_label(ax_a, 'Gy', 13.55, 574, [(12.86, 430, 12.28, 333)])
arrow_label(ax_a, 'Gy', 19.5, 555, [(19.66, 430, 20.1, 326)])
arrow_label(ax_a, 'Wr', 26.72, 907, [(27.07, 763, 27.62, 659), (28.03, 776, 28.55, 672)])
arrow_label(ax_a, 'Cv', 34.76, 1077, [(33.31, 979, 32.79, 868)])
arrow_label(ax_a, 'Cv', 35.97, 829, [(34.24, 770, 33.72, 659)])
arrow_label(ax_a, 'Cv', 45.62, 1383, [(46.14, 1255, 46.83, 1129)])
arrow_label(ax_a, 'Cv', 55.1, 652, [(53.55, 587, 53.03, 483)])

# ---- panel c ----
ax_c = band_panel((248.6, 1791, 939.5, 1555.7), 61.26, -5, 1845, x_c, lo_c, hi_c,
                  spk_c_x, spk_c_lo, spk_c_hi,
                  [(green_c_pos, green_c_h, GREEN), (blue_c_pos, blue_c_h, BLUE),
                   (orange_c_pos, orange_c_h, ORANGE)])
arrow_label(ax_c, 'Cv', 14.74, 797, [(13.37, 680, 12.85, 575)])
arrow_label(ax_c, 'Gy', 19.1, 588, [(19.3, 465, 19.79, 361)])
arrow_label(ax_c, 'Wr', 24.53, 920, [(26.24, 875, 26.86, 764)])
arrow_label(ax_c, 'Wr', 28.65, 1135, [(28.78, 1044, 28.78, 907)])
arrow_label(ax_c, 'Cv', 34.73, 1051, [(33.18, 973, 32.67, 862)])
arrow_label(ax_c, 'Cv', 35.76, 846, [(34.21, 758, 33.7, 647)])
arrow_label(ax_c, 'Wr', 44.44, 849, [(45.82, 771, 46.4, 660)])
arrow_label(ax_c, 'Cv', 50.1, 953, [(48.74, 862, 48.29, 760)])

# ---- panel b ----
bb, bm, bt = broken_panel(2058.7, 3624, [(380, 721, (-4, 1010)), (178.9, 368.4, (1931, 2503)),
                                         (116.9, 165.9, (2500, 5240))],
                          x_b, y_b, [(green_b_pos, green_b_h, GREEN), (blue_b_pos, blue_b_h, BLUE),
                                     (red_b_pos, red_b_h, RED)], light_low=True)
arrow_label(bm, 'Gy', 12.99, 2382, [(13.22, 2264, 12.48, 2088)])
arrow_label(bm, 'Cc', 32.67, 2232, [(31.15, 2160, 30.4, 1983), (34.44, 2160, 35.29, 1983)])
arrow_label(bb, 'Ma', 15.7, 883, [(14.85, 767, 14.85, 580), (16.38, 767, 17.16, 599)])
arrow_label(bb, 'Ma', 24.77, 889, [(24.36, 818, 24.36, 619)])

# ---- panel d ----
db, dm, dt = broken_panel(2058.7, 3626, [(1218, 1558.4, (-3, 1017)), (1015.4, 1206.2, (1916, 2503)),
                                         (954.7, 1000.2, (2500, 5260))],
                          x_d, y_d, [(green_d_pos, green_d_h, GREEN), (blue_d_pos, blue_d_h, BLUE),
                                     (red_d_pos, red_d_h, RED)], light_low=False)
arrow_label(db, 'Gy', 11.63, 909, [(11.7, 799, 11.7, 643)])
arrow_label(db, 'Ma', 15.87, 877, [(15.02, 766, 15.02, 578), (16.62, 766, 17.4, 598)])
arrow_label(db, 'Ma', 24.63, 922, [(24.19, 851, 24.19, 650)])
arrow_label(dm, 'Cc', 32.67, 2316, [(31.15, 2236, 30.4, 2063), (34.47, 2236, 35.32, 2063)])
arrow_label(dm, 'Cc', 44.56, 2209, [(46.08, 2156, 46.83, 1976)])
arrow_label(db, 'Ma', 34.03, 688, [(33.63, 591, 32.34, 286), (34.47, 598, 35.29, 442)])

# ---- axis titles ----
for (px, py) in [(82, 424), (87, 1268), (1888, 420), (1888, 1268)]:
    fig.text(px / W, 1 - py / H, 'Lin (Counts)', rotation=90, ha='center', va='center', fontsize=40)
for (px, py) in [(984, 843), (1003, 1685), (2825, 851), (2825, 1681)]:
    fig.text(px / W, 1 - py / H, '2-Theta-Scale', ha='center', va='center', fontsize=39)

# ---- panel letters ----
for letter, (x0, y0, x1, y1) in zip('abcd', [(56, 40, 113, 128), (1840, 45, 1897, 130),
                                            (66, 872, 123, 955), (1848, 879, 1904, 962)]):
    fig.patches.append(Rectangle((x0 / W, 1 - y1 / H), (x1 - x0) / W, (y1 - y0) / H,
                                 transform=fig.transFigure, fill=False, ec='black', lw=3.5))
    fig.text((x0 + x1) / 2 / W, 1 - (y0 + y1) / 2 / H, letter, ha='center', va='center',
             fontsize=46, family='Liberation Sans')

# ---- mineral key ----
fig.patches.append(Rectangle((1059 / W, 1 - 2048 / H), (2700 - 1059) / W, (2048 - 1756) / H,
                             transform=fig.transFigure, fill=False, ec='black', lw=3))
key = [(1085, 1833, 'Gy: Gypsum'), (1452, 1833, r'CaSO$_4$ H$_2$O'),
       (1085, 1899, 'Cv: Covelite'), (1455, 1899, 'CuS'),
       (1085, 1971, 'Wr: Wurtzite'), (1455, 1971, 'ZnS'),
       (1910, 1833, 'Cc : Calcite'), (2287, 1833, r'CaCO$_3$'),
       (1910, 1892, 'Ma: Malachite'), (2290, 1892, r'Cu$_2$(CO$_3$)(OH)$_2$')]
for px, py, t in key:
    fig.text(px / W, 1 - py / H, t, ha='left', va='center', fontsize=44)

fig.savefig('out.png', dpi=100)
